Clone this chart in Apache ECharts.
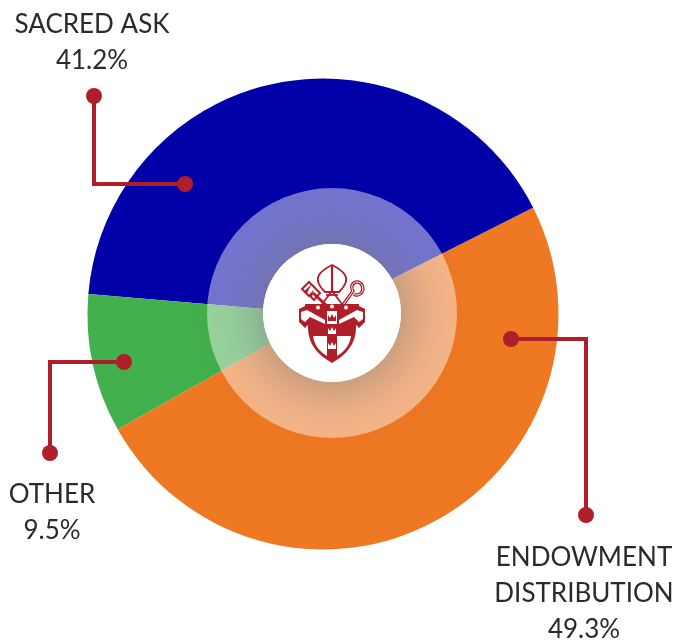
<!DOCTYPE html>
<html>
<head>
<meta charset="utf-8">
<style>html,body{margin:0;padding:0;background:#fff}#c{width:678px;height:642px}</style>
<script src="https://cdn.jsdelivr.net/npm/echarts@6/dist/echarts.min.js"></script>
</head>
<body>
<div id="c"></div>
<script>
const categories = ['SACRED ASK', 'OTHER', 'ENDOWMENT\nDISTRIBUTION'];
const shares = [41.2, 9.5, 49.3];
const colors = ['#0000A9', '#43B04E', '#EF7823'];
const RED = '#B01E2A';

const chart = echarts.init(document.getElementById('c'), null, {renderer: 'canvas'});

const labelPos = [[92, 43], [52, 513], [584, 594]];
const leaders = [
  [[94, 96], [94, 184], [185, 184]],
  [[50, 453], [50, 362], [124, 362]],
  [[586, 515], [586, 339], [511, 339]]
];

const g = [];
leaders.forEach(p => {
  g.push({type: 'polyline', z: 100, shape: {points: p}, style: {stroke: RED, lineWidth: 4, fill: null}});
  [p[0], p[2]].forEach(c => g.push({type: 'circle', z: 101, shape: {cx: c[0], cy: c[1], r: 8}, style: {fill: RED}}));
});

// crest, drawn as annotation artwork
const crest = [];
const fillP = (d, c) => crest.push({type: 'path', shape: {pathData: d, x: 0, y: 0, width: 678, height: 642, layout: 'cover'}, style: {fill: c || RED}});
const strokeP = (d, w, c) => crest.push({type: 'path', shape: {pathData: d, x: 0, y: 0, width: 678, height: 642, layout: 'cover'}, style: {fill: 'none', stroke: c || RED, lineWidth: w}});
const W = '#fff';
// every crest path carries an invisible frame so that 'cover' maps its coordinates 1:1
const F = 'M0 0 M678 642 ';
// mitre
strokeP(F + 'M325 292 C319 286 316 280 319 275 C322 270 328 267 332 265 C336 267 342 270 345 275 C348 280 345 286 339 292 Z', 1.8);
strokeP(F + 'M332 265 L332 292', 2.2);
strokeP(F + 'M332 291 L322 304 M332 291 L342 304', 1.8);
strokeP(F + 'M326 295 L338 295', 1.8);
// key
strokeP(F + 'M313 293 L327 306', 3);
strokeP(F + 'M309 282 L302 289 L305 292 L308 289 L306 293 L309 296 L312 293 L311 297 L314 300 L320 293 Z', 2);
// crozier
const croz = 'M343 305 L353 291 C350 286 353 282 357 282 C362 282 364 288 362 292 C360 295 356 296 354 294';
strokeP(F + croz, 3.4);
strokeP(F + croz, 1, W);
// shield and band
fillP(F + 'M305 304 L359 304 L356 328 C356 344 346 355 332 363 C318 355 308 344 308 328 Z');
// ribbon ends
fillP(F + 'M299 309 L307 305 L327 317 L327 327 L312 320 L305 328 L299 322 Z');
fillP(F + 'M365 309 L357 305 L337 317 L337 327 L352 320 L359 328 L365 322 Z');
fillP(F + 'M301 312 L307 310 L325 320 L325 324 L310 317 L305 322 L301 319 Z', W);
fillP(F + 'M363 312 L357 310 L339 320 L339 324 L354 317 L359 322 L363 319 Z', W);
// quarters and centre panel
fillP(F + 'M327 311 L337 311 L337 324 L327 324 Z', W);
fillP(F + 'M313 336 L327 336 L327 356 C320 352 314 345 313 336 Z', W);
fillP(F + 'M337 336 L351 336 C350 345 344 352 337 356 Z', W);
// band roundels
[[318, 307.5], [332, 306.5], [346, 307.5]].forEach(c =>
  crest.push({type: 'circle', shape: {cx: c[0], cy: c[1], r: 2}, style: {fill: W}}));
// crowns
const crown = (y, c) => fillP(F + `M328 ${y-3} L330 ${y} L332 ${y-4} L334 ${y} L336 ${y-3} L336 ${y+3} L328 ${y+3} Z`, c);
crown(318, RED);
crown(331, W);
crown(346, W);

chart.setOption({
  animation: false,
  backgroundColor: '#fff',
  series: [
    {
      type: 'pie', z: 1, center: [323, 314], radius: [0, 235.5], startAngle: 26.8, clockwise: false,
      percentPrecision: 1, silent: true,
      data: categories.map((n, i) => ({name: n, value: shares[i], itemStyle: {color: colors[i]}})),
      label: {
        show: true, position: 'outside', formatter: p => p.name + '\n' + p.value + '%',
        fontFamily: 'Lato', fontSize: 26, lineHeight: 36, color: '#2a2a2a', align: 'center',
        overflow: 'none', width: 300
      },
      labelLine: {show: false},
      labelLayout: p => ({x: labelPos[p.dataIndex][0], y: labelPos[p.dataIndex][1], align: 'center', verticalAlign: 'middle', hideOverlap: false})
    },
    {
      type: 'pie', z: 2, center: [332, 313], radius: [0, 69], silent: true,
      data: [{value: 1, name: 'hole', itemStyle: {color: '#fff', shadowBlur: 62, shadowColor: 'rgba(0,0,0,0.8)'}}],
      label: {show: false}, labelLine: {show: false}
    },
    {
      type: 'pie', z: 3, center: [332, 313], radius: [69, 125], silent: true,
      data: [{value: 1, name: 'ring', itemStyle: {color: 'rgba(255,255,255,0.45)'}}],
      label: {show: false}, labelLine: {show: false}
    },
    {
      type: 'pie', z: 4, center: [332, 313], radius: [0, 69], silent: true,
      data: [{value: 1, name: 'cap', itemStyle: {color: '#fff'}}],
      label: {show: false}, labelLine: {show: false}
    },
    {
      type: 'custom', z: 5, coordinateSystem: 'none', silent: true, data: [0],
      renderItem: () => ({type: 'group', children: crest})
    }
  ],
  graphic: {z: 100, elements: g}
});
</script>
</body>
</html>
